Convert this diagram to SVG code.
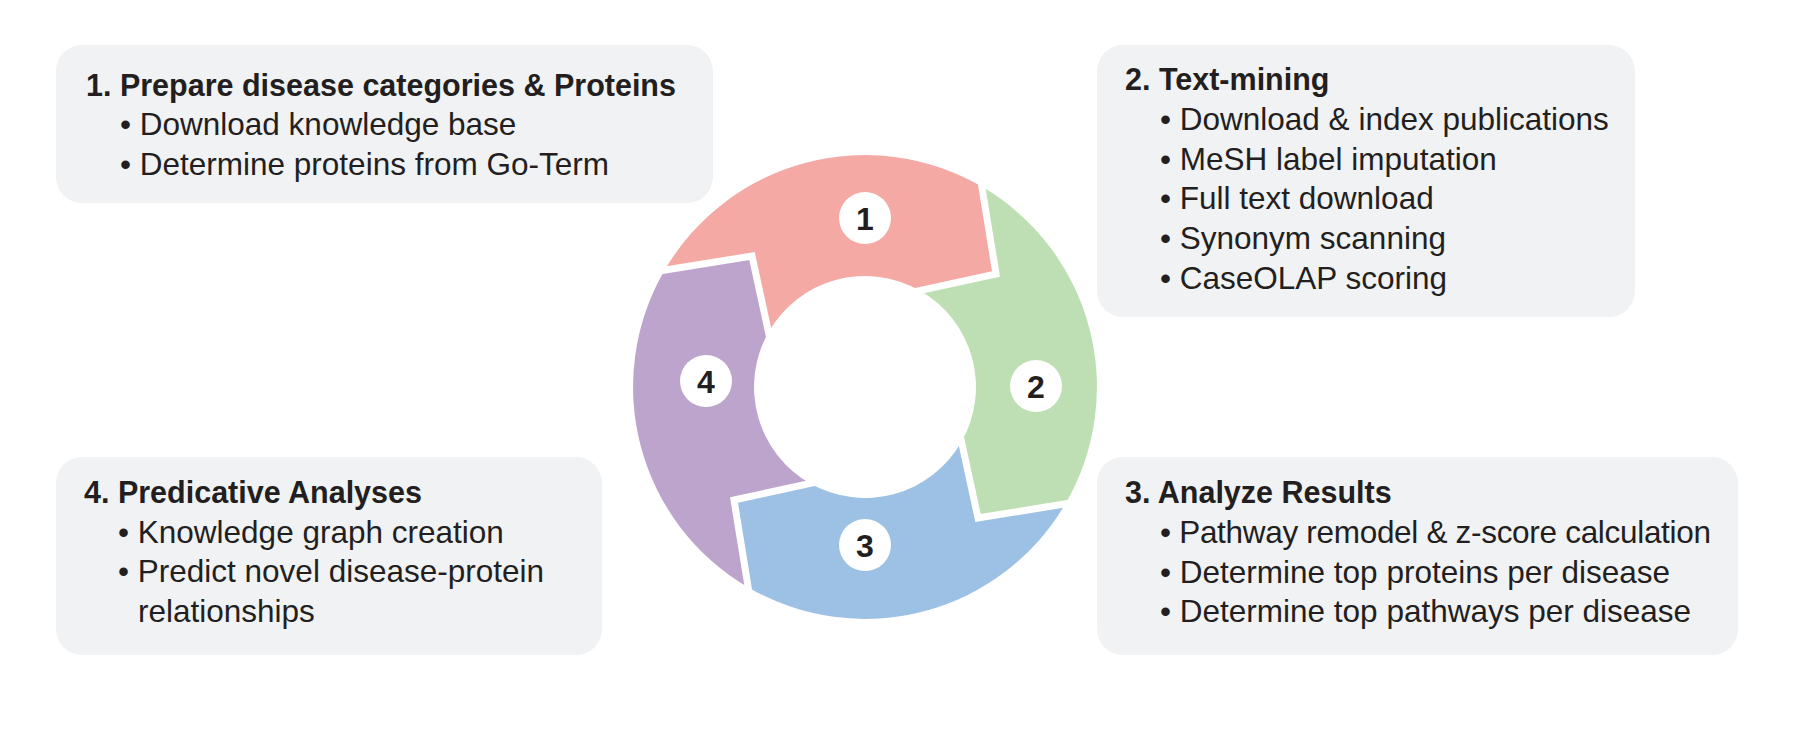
<svg xmlns="http://www.w3.org/2000/svg" xmlns:xlink="http://www.w3.org/1999/xlink" width="1799" height="729" viewBox="0 0 1799 729">
  <style>
    .panel { fill: #F1F2F4; }
    .title { font-family: "Liberation Sans", Arial, sans-serif; font-weight: bold; font-size: 30.5px; fill: #231F20; }
    .item { font-family: "Liberation Sans", Arial, sans-serif; font-size: 31.5px; fill: #231F20; }
    .num { font-family: "Liberation Sans", Arial, sans-serif; font-weight: bold; font-size: 32px; fill: #231F20; text-anchor: middle; }
    .badge { fill: #FFFFFF; }
    .gap { fill: none; stroke: #FFFFFF; stroke-width: 7; stroke-linejoin: miter; stroke-miterlimit: 10; }
  </style>
  <defs>
    <!-- one quarter of the cycle ring (top, pointing clockwise); the others are rotations about (865,387) -->
    <path id="quarter" d="M664.6,270.2 A232,232 0 0 1 981.8,186.6 L996,274 L919.8,290.5 A111,111 0 0 0 768.5,332.2 L752,256 Z"/>
    <!-- white gap between two neighbouring quarters -->
    <path id="gapline" d="M979.7,173.5 L996,274 L904.6,293.8"/>
  </defs>

  <rect width="1799" height="729" fill="#FFFFFF"/>

  <!-- cycle ring -->
  <g id="step1">
    <use xlink:href="#quarter" href="#quarter" fill="#F4A9A4"/>
  </g>
  <g id="step2">
    <use xlink:href="#quarter" href="#quarter" fill="#BEDFB3" transform="rotate(90 865 387)"/>
  </g>
  <g id="step3">
    <use xlink:href="#quarter" href="#quarter" fill="#9DC1E4" transform="rotate(180 865 387)"/>
  </g>
  <g id="step4">
    <use xlink:href="#quarter" href="#quarter" fill="#BDA4CC" transform="rotate(270 865 387)"/>
  </g>

  <g id="connectors">
    <use xlink:href="#gapline" href="#gapline" class="gap"/>
    <use xlink:href="#gapline" href="#gapline" class="gap" transform="rotate(90 865 387)"/>
    <use xlink:href="#gapline" href="#gapline" class="gap" transform="rotate(180 865 387)"/>
    <use xlink:href="#gapline" href="#gapline" class="gap" transform="rotate(270 865 387)"/>
  </g>

  <!-- step badges -->
  <g id="badge1">
    <circle class="badge" cx="865" cy="218" r="26"/>
    <text class="num" x="865" y="230">1</text>
  </g>
  <g id="badge2">
    <circle class="badge" cx="1036" cy="386" r="26"/>
    <text class="num" x="1036" y="398">2</text>
  </g>
  <g id="badge3">
    <circle class="badge" cx="865" cy="545" r="26"/>
    <text class="num" x="865" y="557">3</text>
  </g>
  <g id="badge4">
    <circle class="badge" cx="706" cy="381" r="26"/>
    <text class="num" x="706" y="393">4</text>
  </g>

  <!-- description panels -->
  <g id="panel1">
    <rect class="panel" x="56" y="45" width="657" height="158" rx="26"/>
    <text class="title" x="86" y="96">1. Prepare disease categories &amp; Proteins</text>
    <text class="item" x="120" y="135">• Download knowledge base</text>
    <text class="item" x="120" y="175">• Determine proteins from Go-Term</text>
  </g>

  <g id="panel2">
    <rect class="panel" x="1097" y="45" width="538" height="272" rx="26"/>
    <text class="title" x="1125" y="90">2. Text-mining</text>
    <text class="item" x="1160" y="130">• Download &amp; index publications</text>
    <text class="item" x="1160" y="170">• MeSH label imputation</text>
    <text class="item" x="1160" y="209">• Full text download</text>
    <text class="item" x="1160" y="249">• Synonym scanning</text>
    <text class="item" x="1160" y="289">• CaseOLAP scoring</text>
  </g>

  <g id="panel3">
    <rect class="panel" x="1097" y="457" width="641" height="198" rx="26"/>
    <text class="title" x="1125" y="503">3. Analyze Results</text>
    <text class="item" x="1160" y="543" textLength="551">• Pathway remodel &amp; z-score calculation</text>
    <text class="item" x="1160" y="583">• Determine top proteins per disease</text>
    <text class="item" x="1160" y="622">• Determine top pathways per disease</text>
  </g>

  <g id="panel4">
    <rect class="panel" x="56" y="457" width="546" height="198" rx="26"/>
    <text class="title" x="84" y="503">4. Predicative Analyses</text>
    <text class="item" x="118" y="543">• Knowledge graph creation</text>
    <text class="item" x="118" y="582">• Predict novel disease-protein</text>
    <text class="item" x="138" y="622">relationships</text>
  </g>
</svg>
